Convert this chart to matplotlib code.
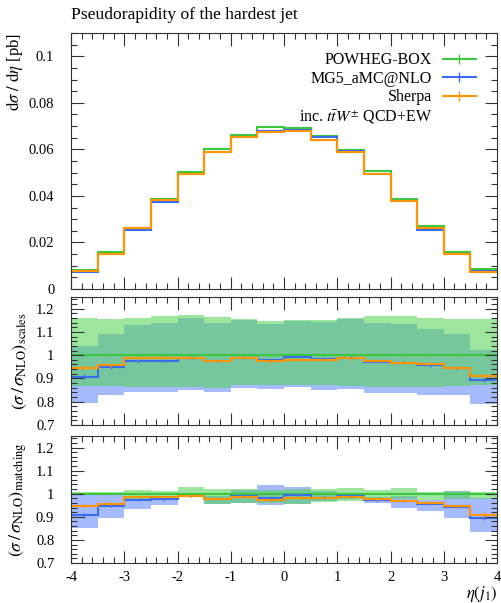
import matplotlib
matplotlib.use('Agg')
import matplotlib.pyplot as plt
from matplotlib.lines import Line2D
from matplotlib.ticker import MultipleLocator, FormatStrFormatter
import numpy as np

plt.rcParams['font.family'] = ['Liberation Serif', 'DejaVu Serif']
plt.rcParams['mathtext.fontset'] = 'stix'
plt.rcParams['axes.unicode_minus'] = False
plt.rcParams['font.size'] = 10.5

# bin edges in eta(j1)
edges = [-4.0, -3.5, -3.0, -2.5, -2.0, -1.5, -1.0, -0.5, 0.0,
         0.5, 1.0, 1.5, 2.0, 2.5, 3.0, 3.5, 4.0]

# dsigma/deta [pb]
powheg = [0.0082, 0.0161, 0.0262, 0.0387, 0.0501, 0.0602, 0.0661, 0.0694,
          0.0693, 0.0659, 0.0596, 0.0506, 0.0388, 0.0269, 0.0158, 0.0085]
mg5 = [0.0072, 0.0151, 0.0254, 0.0375, 0.0496, 0.0588, 0.0654, 0.0678,
       0.0685, 0.0652, 0.0592, 0.0494, 0.0376, 0.0254, 0.0151, 0.0078]
sherpa = [0.0078, 0.0151, 0.0262, 0.0383, 0.0496, 0.0588, 0.0654, 0.0675,
          0.0677, 0.0642, 0.0588, 0.0494, 0.0376, 0.0260, 0.0151, 0.0075]

# ratios to the NLO reference (POWHEG-BOX)
ratio_powheg = [1.0] * 16
ratio_mg5 = [0.907, 0.949, 0.973, 0.975, 0.990, 0.976, 0.989, 0.980,
             0.993, 0.983, 0.990, 0.971, 0.968, 0.957, 0.944, 0.895]
ratio_sherpa = [0.947, 0.957, 0.987, 0.987, 0.990, 0.976, 0.987, 0.973,
                0.981, 0.980, 0.986, 0.975, 0.968, 0.962, 0.945, 0.910]
err_powheg = [0.003, 0.003, 0.002, 0.002, 0.002, 0.002, 0.002, 0.002,
              0.002, 0.002, 0.002, 0.002, 0.002, 0.002, 0.003, 0.003]
err_mg5 = [0.010, 0.007, 0.006, 0.005, 0.005, 0.005, 0.005, 0.005,
           0.005, 0.005, 0.005, 0.005, 0.005, 0.006, 0.007, 0.010]
err_sherpa = [0.010, 0.007, 0.006, 0.005, 0.005, 0.005, 0.005, 0.005,
              0.005, 0.005, 0.005, 0.005, 0.005, 0.006, 0.007, 0.010]

# scale variation envelopes
powheg_scale_up = [1.160, 1.154, 1.160, 1.168, 1.171, 1.164, 1.154, 1.146,
                   1.150, 1.153, 1.161, 1.170, 1.168, 1.161, 1.157, 1.154]
powheg_scale_dn = [0.867, 0.867, 0.864, 0.864, 0.862, 0.860, 0.870, 0.871,
                   0.871, 0.871, 0.867, 0.864, 0.864, 0.864, 0.867, 0.871]
mg5_scale_up = [1.039, 1.093, 1.131, 1.140, 1.160, 1.140, 1.150, 1.136,
                1.146, 1.143, 1.157, 1.139, 1.133, 1.114, 1.090, 1.021]
mg5_scale_dn = [0.793, 0.829, 0.840, 0.840, 0.850, 0.843, 0.859, 0.854,
                0.862, 0.850, 0.854, 0.836, 0.836, 0.829, 0.829, 0.790]

# matching variation envelopes
powheg_match_up = [1.007, 1.007, 1.017, 1.013, 1.027, 1.022, 1.019, 1.017,
                   1.022, 1.022, 1.026, 1.016, 1.023, 1.009, 1.010, 1.009]
powheg_match_dn = [0.993, 0.993, 0.979, 0.984, 0.990, 0.955, 0.958, 0.960,
                   0.955, 0.965, 0.968, 0.978, 0.979, 0.972, 0.979, 0.977]
mg5_match_up = [0.998, 0.998, 0.980, 0.984, 0.996, 0.990, 1.015, 1.037,
                1.030, 1.013, 1.000, 0.985, 0.988, 0.972, 1.013, 0.980]
mg5_match_dn = [0.850, 0.893, 0.934, 0.951, 0.985, 0.955, 0.960, 0.951,
                0.954, 0.968, 0.975, 0.962, 0.940, 0.925, 0.894, 0.836]

green = '#3cc83c'
blue = '#3a6cf0'
orange = '#ff9400'
green_band = '#4fd14f'
blue_band = '#6b8cff'

centres = 0.5 * (np.array(edges[:-1]) + np.array(edges[1:]))

fig = plt.figure(figsize=(5.01, 6.03), dpi=100)
left, width = 71 / 501, 426 / 501
ax_main = fig.add_axes([left, 1 - 289 / 603, width, 256 / 603])
ax_sc = fig.add_axes([left, 1 - 425 / 603, width, 128 / 603])
ax_mt = fig.add_axes([left, 1 - 563 / 603, width, 127 / 603])

ax_main.stairs(powheg, edges, baseline=None, color=green, lw=1.5)
ax_main.stairs(mg5, edges, baseline=None, color=blue, lw=1.5)
ax_main.stairs(sherpa, edges, baseline=None, color=orange, lw=1.5)

ax_sc.stairs(mg5_scale_up, edges, baseline=mg5_scale_dn, fill=True,
             color=blue_band, alpha=0.6, lw=0)
ax_sc.stairs(powheg_scale_up, edges, baseline=powheg_scale_dn, fill=True,
             color=green_band, alpha=0.55, lw=0)

ax_mt.stairs(mg5_match_up, edges, baseline=mg5_match_dn, fill=True,
             color=blue_band, alpha=0.6, lw=0)
ax_mt.stairs(powheg_match_up, edges, baseline=powheg_match_dn, fill=True,
             color=green_band, alpha=0.55, lw=0)

for ax in (ax_sc, ax_mt):
    for r, e, c in ((ratio_powheg, err_powheg, green),
                    (ratio_mg5, err_mg5, blue),
                    (ratio_sherpa, err_sherpa, orange)):
        ax.stairs(r, edges, baseline=None, color=c, lw=1.5)
        ax.errorbar(centres, r, yerr=e, fmt='none', ecolor=c, elinewidth=1)

for ax in (ax_main, ax_sc, ax_mt):
    ax.set_xlim(-4, 4)
    ax.xaxis.set_major_locator(MultipleLocator(1))
    ax.xaxis.set_minor_locator(MultipleLocator(0.2))
    ax.tick_params(which='both', direction='in', top=True, right=True,
                   color='#333333')
    ax.tick_params(which='major', length=9, width=0.8)
    ax.tick_params(which='minor', length=4.5, width=0.8)
    ax.tick_params(axis='y', pad=12)
    ax.tick_params(axis='x', pad=6)
    for s in ax.spines.values():
        s.set_linewidth(0.8)
        s.set_color('#333333')

ax_main.set_ylim(0, 0.11)
ax_main.yaxis.set_major_locator(MultipleLocator(0.02))
ax_main.yaxis.set_minor_locator(MultipleLocator(0.005))
ax_main.yaxis.set_major_formatter(FormatStrFormatter('%g'))
ax_main.tick_params(axis='x', labelbottom=False)
ax_main.set_ylabel(r'$\mathrm{d}\sigma\ /\ \mathrm{d}\eta$ [pb]', loc='top',
                   fontsize=12)
ax_main.yaxis.set_label_coords(-0.108, 1.0)
ax_main.set_title('Pseudorapidity of the hardest jet', loc='left', pad=10)

for ax in (ax_sc, ax_mt):
    ax.set_ylim(0.7, 1.25)
    ax.yaxis.set_major_locator(MultipleLocator(0.1))
    ax.yaxis.set_minor_locator(MultipleLocator(0.02))
    ax.yaxis.set_major_formatter(FormatStrFormatter('%g'))

ax_sc.tick_params(axis='x', labelbottom=False)
ax_sc.set_ylabel(r'$(\sigma\,/\,\sigma_{\mathrm{NLO}})_{\mathrm{scales}}$',
                 fontsize=13)
ax_mt.set_ylabel(r'$(\sigma\,/\,\sigma_{\mathrm{NLO}})_{\mathrm{matching}}$',
                 fontsize=13)
for ax in (ax_sc, ax_mt):
    ax.yaxis.set_label_coords(-0.098, 0.5)
ax_mt.set_xlabel(r'$\eta(j_1)$', loc='right', labelpad=0, fontsize=12)
ax_mt.xaxis.set_major_formatter(FormatStrFormatter('%g'))

handles = [
    Line2D([], [], color=green, lw=1.5, marker='|', ms=7, mew=1),
    Line2D([], [], color=blue, lw=1.5, marker='|', ms=7, mew=1),
    Line2D([], [], color=orange, lw=1.5, marker='|', ms=7, mew=1),
    Line2D([], [], color='none'),
]
labels = ['POWHEG-BOX', 'MG5_aMC@NLO', 'Sherpa',
          r'inc. $t\bar{t}W^{\pm}$ QCD+EW']
ax_main.legend(handles, labels, loc='upper right', bbox_to_anchor=(0.951, 0.925),
               frameon=False, markerfirst=False, borderpad=0, borderaxespad=0,
               handlelength=2.1, handletextpad=0.65, labelspacing=0.16,
               fontsize=11.5)

fig.savefig('out.png', dpi=100)
